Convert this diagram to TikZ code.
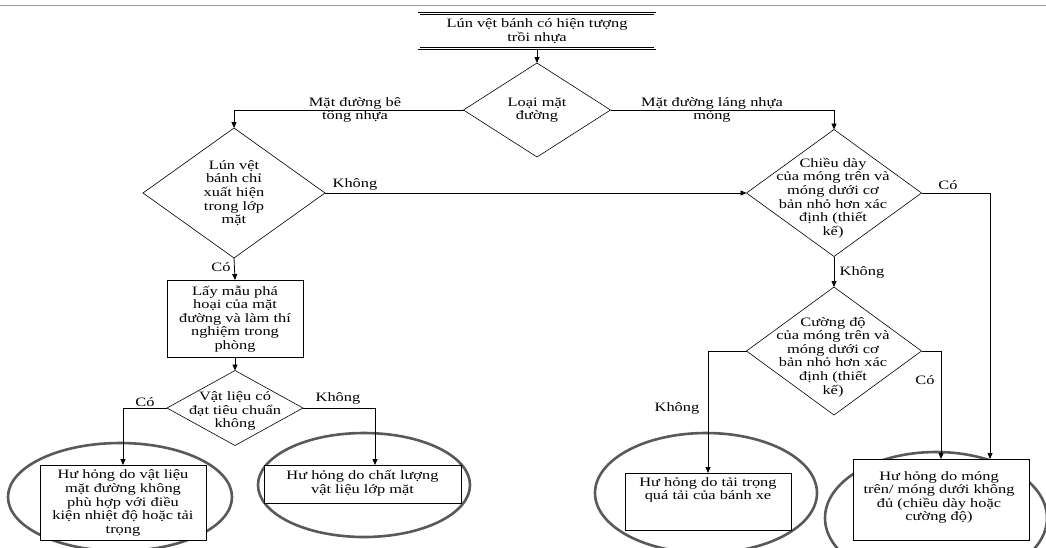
\documentclass[tikz,border=0pt]{standalone}
\usepackage{fontspec}
\setmainfont{Liberation Serif}[FakeStretch=1.28]
\usetikzlibrary{shapes.geometric,arrows.meta,calc}
\begin{document}
\begin{tikzpicture}[x=1pt,y=-1pt,
 txt/.style={font=\fontsize{12.8}{13.6}\selectfont, align=center, inner sep=0pt},
 dia/.style={diamond, draw, line width=0.6pt, inner sep=0pt, outer sep=0pt},
 box/.style={draw, line width=0.8pt, fill=white, inner sep=0pt, outer sep=0pt},
 ring/.style={draw=black!65, line width=2.6pt},
 arr/.style={draw, line width=0.8pt, -{Triangle[length=6pt,width=5pt]}},
 ln/.style={draw, line width=0.8pt}]
\useasboundingbox (0,0) rectangle (1046,547);
\draw[black!40, line width=1pt] (0,5) -- (1046,5);

% top box
\node[box, double, line width=0.8pt, double distance=1.2pt, minimum width=236pt, minimum height=35pt] (top) at (537,31) {};
\node[txt] (toptxt) at (537,31) {Lún vệt bánh có hiện tượng\\trồi nhựa};

% diamonds
\node[dia, minimum width=147pt, minimum height=94pt] (d1) at (537,110) {};
\node[txt] (d1t) at (537,110) {Loại mặt\\đường};

\node[dia, minimum width=182pt, minimum height=130pt] (d2) at (234,193) {};
\node[txt] (d2t) at (234,193) {Lún vệt\\bánh chỉ\\xuất hiện\\trong lớp\\mặt};

\node[dia, minimum width=175pt, minimum height=127pt] (d3) at (834,193) {};
\node[txt] (d3t) at (833,198) {Chiều dày\\của móng trên và\\móng dưới cơ\\bản nhỏ hơn xác\\định (thiết\\kế)};

\node[box, minimum width=136pt, minimum height=77pt] (b1) at (235,318.5) {};
\node[txt] (b1t) at (235,319) {Lấy mẫu phá\\hoại của mặt\\đường và làm thí\\nghiệm trong\\phòng};

\node[dia, minimum width=136pt, minimum height=75pt] (d4) at (235,408) {};
\node[txt] (d4t) at (235,411) {Vật liệu có\\đạt tiêu chuẩn\\không};

\node[dia, minimum width=175pt, minimum height=128pt] (d5) at (834,351) {};
\node[txt] (d5t) at (833,357) {Cường độ\\của móng trên và\\móng dưới cơ\\bản nhỏ hơn xác\\định (thiết\\kế)};

% result ellipses
\draw[ring] (120,497) ellipse [x radius=112, y radius=54];
\draw[ring] (364,485) ellipse [x radius=106, y radius=52];
\draw[ring] (706,493) ellipse [x radius=111, y radius=60];
\draw[ring] (936,518) ellipse [x radius=111, y radius=66];

\node[box, minimum width=166pt, minimum height=75pt] (r1) at (123,502.5) {};
\node[txt] (r1t) at (123,503) {Hư hỏng do vật liệu\\mặt đường không\\phù hợp với điều\\kiện nhiệt độ hoặc tải\\trọng};

\node[box, minimum width=197pt, minimum height=38pt] (r2) at (362.5,484) {};
\node[txt] (r2t) at (362.5,483) {Hư hỏng do chất lượng\\vật liệu lớp mặt};

\node[box, minimum width=166pt, minimum height=57pt] (r3) at (708,501.5) {};
\node[txt, anchor=north] (r3t) at (708,477) {Hư hỏng do tải trọng\\quá tải của bánh xe};

\node[box, minimum width=176pt, minimum height=81pt] (r4) at (941,499.5) {};
\node[txt] (r4t) at (939,497.5) {Hư hỏng do móng\\trên/ móng dưới không\\đủ (chiều dày hoặc\\cường độ)};

% connectors
\draw[arr] (top.south) -- (d1.north);
\draw[arr] (d1.west) -| (d2.north);
\draw[arr] (d1.east) -| (d3.north);
\draw[arr] (d2.east) -- (d3.west);
\draw[arr] (d2.south) -- (b1.north);
\draw[arr] (b1.south) -- (d4.north);
\draw[arr] (d4.west) -| (r1.north);
\draw[arr] (d4.east) -| ([xshift=12.5pt]r2.north);
\draw[arr] (d3.east) -| ([xshift=49pt]r4.north);
\draw[arr] (d3.south) -- (d5.north);
\draw[arr] (d5.west) -| (r3.north);
\draw[arr] (d5.east) -| (r4.north);

% labels
\node[txt] (l1) at (355,110) {Mặt đường bê\\tông nhựa};
\node[txt] (l2) at (712,110) {Mặt đường láng nhựa\\mỏng};
\node[txt] (l3) at (355,184) {Không};
\node[txt] (l4) at (221,267) {Có};
\node[txt] (l5) at (145,402) {Có};
\node[txt] (l6) at (338,398) {Không};
\node[txt] (l7) at (948,185) {Có};
\node[txt] (l8) at (862,272) {Không};
\node[txt] (l9) at (677,408) {Không};
\node[txt] (l10) at (925,380) {Có};
\end{tikzpicture}
\end{document}
